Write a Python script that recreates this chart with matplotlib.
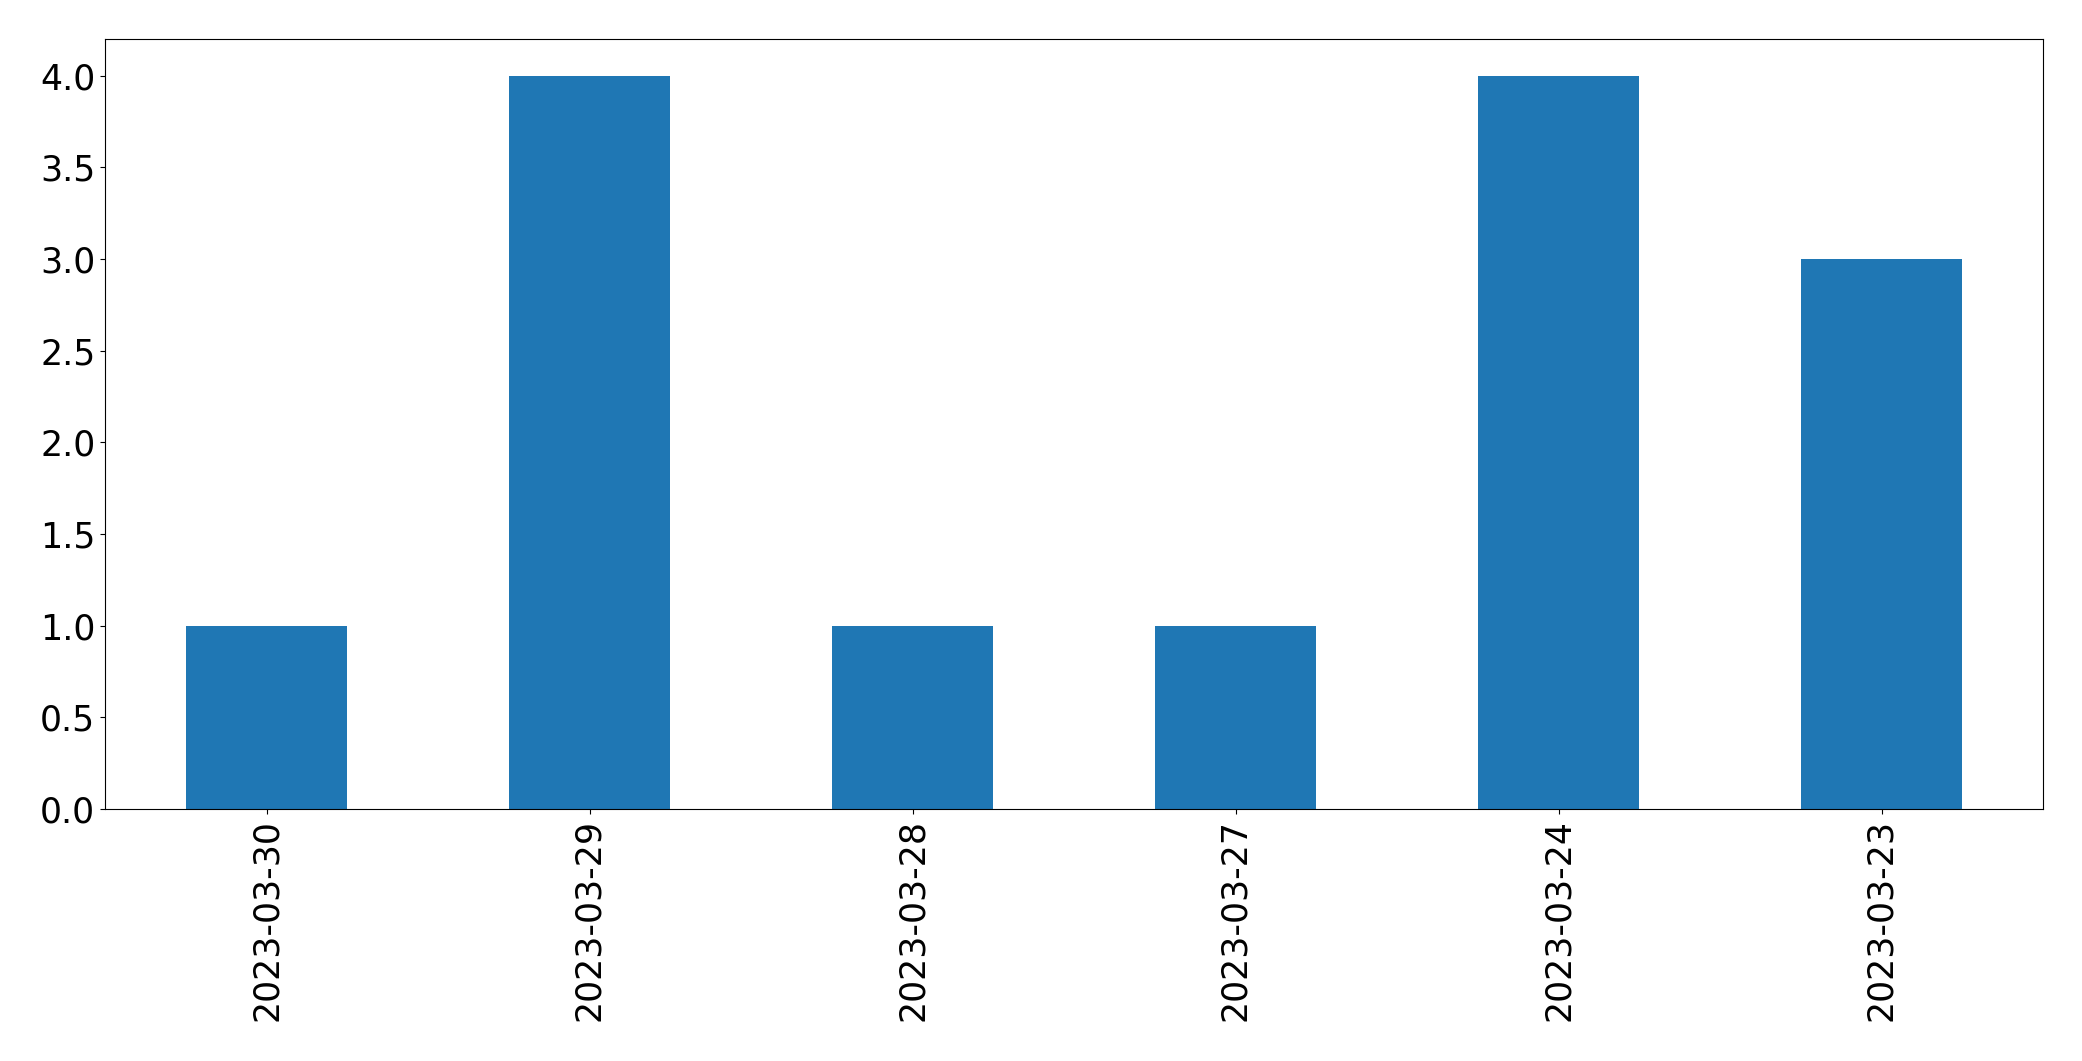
import matplotlib
matplotlib.use("Agg")
import matplotlib.pyplot as plt
import numpy as np

dates = ["2023-03-30", "2023-03-29", "2023-03-28", "2023-03-27", "2023-03-24", "2023-03-23"]
counts = [1, 4, 1, 1, 4, 3]


def main() -> None:
    fig = plt.figure(figsize=(20.82, 10.61), dpi=100)
    ax = fig.add_axes([105 / 2082, 1 - 809 / 1061, (2043 - 105) / 2082, (809 - 39) / 1061])
    x = np.arange(len(dates))
    ax.bar(x, counts, width=0.5, color="#1f77b4")
    ax.set_xlim(-0.5, len(dates) - 0.5)
    ax.set_ylim(0, max(counts) * 1.05)
    ax.set_xticks(x)
    ax.set_xticklabels(dates, rotation=90)
    ax.tick_params(axis="both", labelsize=25)
    fig.savefig("out.png", dpi=100)
    plt.close(fig)


if __name__ == "__main__":
    main()
